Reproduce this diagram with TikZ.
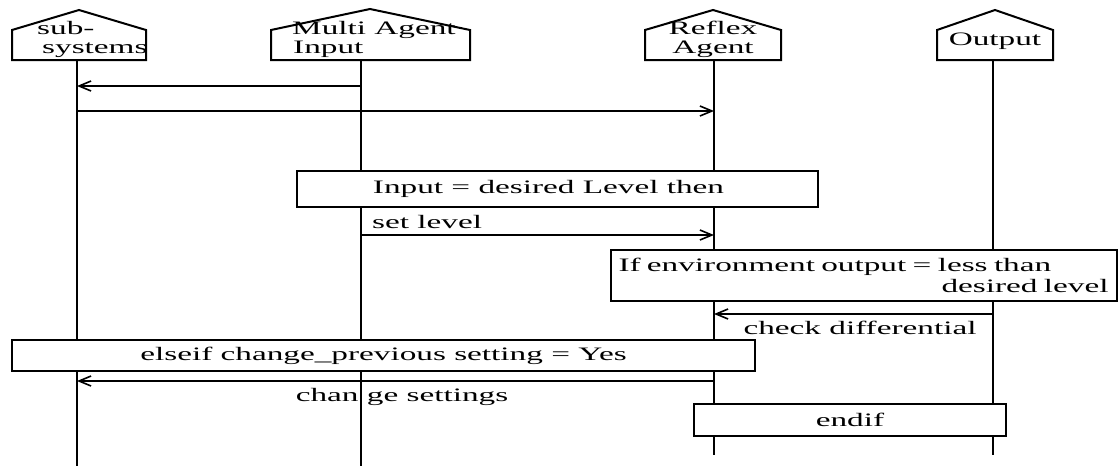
\documentclass[tikz,border=0pt]{standalone}
\usepackage{fontspec}
\setmainfont{Liberation Serif}[FakeStretch=1.75]
\usetikzlibrary{arrows.meta}
\newcommand\dfs{\fontsize{19}{21}\selectfont}
\begin{document}
\begin{tikzpicture}[x=1pt,y=-1pt,
  life/.style={line width=2.4pt},
  head/.style={draw, line width=2pt, fill=white, line join=miter},
  frag/.style={draw, line width=2pt, fill=white, inner sep=0pt, font=\dfs},
  msg/.style={line width=1.6pt, -{Straight Barb[length=12pt,width=10pt,line width=1.6pt]}},
  lbl/.style={font=\dfs, inner sep=0pt, anchor=base}
]
\useasboundingbox (0,0) rectangle (1118,466);

% lifeline end points
\coordinate (sTop) at (77,60);   \coordinate (sBot) at (77,466);
\coordinate (mTop) at (361,60);  \coordinate (mBot) at (361,466);
\coordinate (rTop) at (714,60);  \coordinate (rBot) at (714,455);
\coordinate (oTop) at (993,60);  \coordinate (oBot) at (993,455);

% lifelines
\draw[life] (sTop) -- (sBot);
\draw[life] (mTop) -- (mBot);
\draw[life] (rTop) -- (rBot);
\draw[life] (oTop) -- (oBot);

% headers
\draw[head] (12,60) -- (12,30) -- (79,10) -- (146,30) -- (146,60) -- cycle;
\node[lbl, anchor=base west] (hS1) at (37,34) {sub-};
\node[lbl, anchor=base west] (hS2) at (42,53) {systems};

\draw[head] (271,60) -- (271,30) -- (370,9) -- (470,30) -- (470,60) -- cycle;
\node[lbl, anchor=base west] (hM1) at (292,34) {Multi Agent};
\node[lbl, anchor=base west] (hM2) at (293,53) {Input};

\draw[head] (645,60) -- (645,30) -- (713,10) -- (781,30) -- (781,60) -- cycle;
\node[lbl] (hR1) at (713,34) {Reflex};
\node[lbl] (hR2) at (713,53) {Agent};

\draw[head] (937,60) -- (937,30) -- (995,10) -- (1053,30) -- (1053,60) -- cycle;
\node[lbl] (hO1) at (995,45) {Output};

% messages
\coordinate (m86) at (361,86);   \coordinate (s86) at (77,86);
\coordinate (s111) at (77,111);  \coordinate (r111) at (714,111);
\coordinate (m235) at (361,235); \coordinate (r235) at (714,235);
\coordinate (o314) at (993,314); \coordinate (r314) at (714,314);
\coordinate (r381) at (714,381); \coordinate (s381) at (77,381);

\draw[msg] (m86) -- (s86);
\draw[msg] (s111) -- (r111);

% fragments
\node[frag, minimum width=521pt, minimum height=36pt] (fInput) at (557.5,189)
  {\hspace*{-18pt}Input = desired Level then};

\draw[msg] (m235) -- (r235);
\node[lbl, anchor=base west] (lSet) at (372,228) {set level};

\node[frag, minimum width=506pt, minimum height=51pt, text width=490pt, align=left] (fIf) at (863.5,275.5)
  {If environment output = less than\\\hspace*{\fill}desired level};

\draw[msg] (o314) -- (r314);
\node[lbl] (lCheck) at (860,334) {check differential};

\node[frag, minimum width=743pt, minimum height=31pt] (fElse) at (383.5,355.5)
  {elseif change\_previous setting = Yes};

\draw[msg] (r381) -- (s381);
\node[lbl] (lChange) at (402,401) {chan ge settings};

\node[frag, minimum width=312pt, minimum height=32pt] (fEnd) at (850,420) {endif};

\end{tikzpicture}
\end{document}
